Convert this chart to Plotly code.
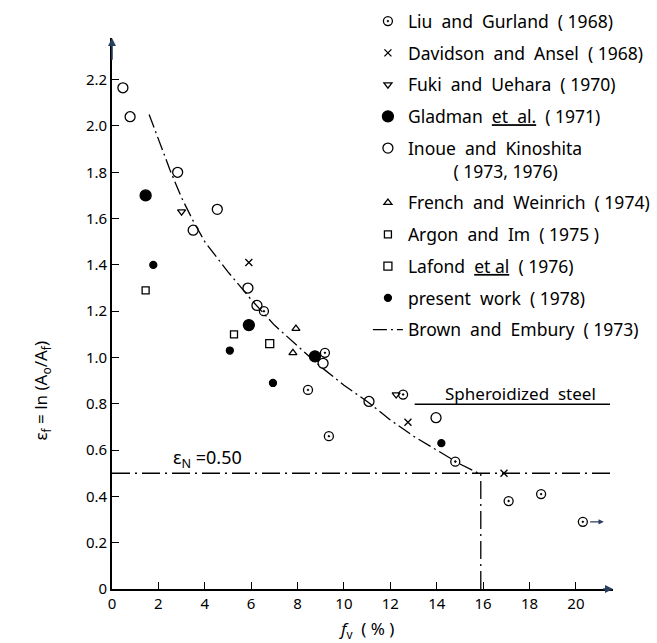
import plotly.graph_objects as go

# ---- data ----
liu_x = [8.45, 9.35, 12.55, 14.8, 17.1, 18.5, 20.3, 6.55, 9.18]
liu_y = [0.86, 0.66, 0.84, 0.55, 0.38, 0.41, 0.29, 1.20, 1.02]
dav_x = [5.9, 12.76, 16.9]
dav_y = [1.41, 0.72, 0.50]
fuki_x = [3.0, 12.25]
fuki_y = [1.63, 0.84]
glad_x = [1.45, 5.9, 8.75]
glad_y = [1.70, 1.14, 1.005]
inoue_x = [0.47, 0.78, 2.83, 3.5, 4.54, 5.86, 6.25, 9.1, 11.08, 13.97]
inoue_y = [2.165, 2.04, 1.80, 1.55, 1.64, 1.30, 1.225, 0.975, 0.81, 0.74]
french_x = [7.93, 7.8]
french_y = [1.125, 1.02]
argon_x = [1.45, 5.26]
argon_y = [1.29, 1.10]
lafond_x = [6.8]
lafond_y = [1.06]
present_x = [1.78, 5.08, 6.94, 14.2]
present_y = [1.40, 1.03, 0.89, 0.63]
brown_x = [1.6, 2.0, 2.5, 3.0, 3.5, 4.0, 5.0, 6.0, 7.0, 8.0, 9.0, 10.0, 11.0, 12.0, 13.0, 14.0, 15.0, 15.8]
brown_y = [2.05, 1.94, 1.81, 1.69, 1.59, 1.50, 1.37, 1.25, 1.14, 1.05, 0.96, 0.88, 0.81, 0.73, 0.66, 0.60, 0.54, 0.50]
eps_n = 0.50
f_crit = 15.9
x_ticks = [0, 2, 4, 6, 8, 10, 12, 14, 16, 18, 20]
y_ticks = [0, 0.2, 0.4, 0.6, 0.8, 1.0, 1.2, 1.4, 1.6, 1.8, 2.0, 2.2]
y_ticktext = ["0", "0.2", "0.4", "0.6", "0.8", "1.0", "1.2", "1.4", "1.6", "1.8", "2.0", "2.2"]

FONT = "Noto Sans"
DASHDOT = "14px,4px,2px,4px"

fig = go.Figure()

def add_pts(x, y, name, symbol, size, group):
    fig.add_trace(go.Scatter(
        x=x, y=y, mode="markers", name=name, legendgroup=group,
        marker=dict(symbol=symbol, size=size, color="black",
                    line=dict(color="black", width=1.3)),
        cliponaxis=False))

add_pts(liu_x, liu_y, "Liu  and  Gurland  ( 1968)", "circle-open-dot", 9, "a")
add_pts(dav_x, dav_y, "Davidson  and  Ansel  ( 1968)", "x-thin", 7, "b")
add_pts(fuki_x, fuki_y, "Fuki  and  Uehara  ( 1970)", "triangle-down-open", 7, "c")
add_pts(glad_x, glad_y, "Gladman  <u>et  al.</u>  ( 1971)", "circle", 11, "d")
add_pts(inoue_x, inoue_y, "Inoue  and  Kinoshita<br>          ( 1973, 1976)", "circle-open", 10, "e")
add_pts(french_x, french_y, "French  and  Weinrich  ( 1974)", "triangle-up-open", 7, "f")
add_pts(argon_x, argon_y, "Argon  and  Im  ( 1975 )", "square-open", 7, "g")
add_pts(lafond_x, lafond_y, "Lafond  <u>et al</u>  ( 1976)", "square-open", 8, "h")
add_pts(present_x, present_y, "present  work  ( 1978)", "circle", 7, "i")

fig.add_trace(go.Scatter(
    x=brown_x, y=brown_y, mode="lines", name="Brown  and  Embury  ( 1973)",
    legendgroup="j", line=dict(color="black", width=1.3, dash=DASHDOT)))

# eps_N horizontal line and vertical drop
fig.add_trace(go.Scatter(x=[0, 21.5], y=[eps_n, eps_n], mode="lines", showlegend=False,
                         line=dict(color="black", width=1.3, dash="18px,5px,2px,5px")))
fig.add_trace(go.Scatter(x=[f_crit, f_crit], y=[0, eps_n], mode="lines", showlegend=False,
                         line=dict(color="black", width=1.3, dash="18px,5px,2px,5px")))

fig.update_xaxes(range=[0, 21.6], showline=True, linecolor="black", linewidth=1.6,
                 showgrid=False, zeroline=False, ticks="inside", ticklen=7,
                 tickwidth=1.3, tickcolor="black", tickvals=x_ticks,
                 tickfont=dict(family=FONT, size=15, color="black"))
fig.update_yaxes(range=[0, 2.38], showline=True, linecolor="black", linewidth=1.6,
                 showgrid=False, zeroline=False, ticks="inside", ticklen=7,
                 tickwidth=1.3, tickcolor="black", tickvals=y_ticks, ticktext=y_ticktext,
                 tickfont=dict(family=FONT, size=15, color="black"))

ann = [
    dict(x=0, y=2.38, ax=0, ay=2.28, xref="x", yref="y", axref="x", ayref="y",
         showarrow=True, arrowhead=2, arrowsize=1, arrowwidth=1.6, text=""),
    dict(x=21.6, y=0, ax=21.1, ay=0, xref="x", yref="y", axref="x", ayref="y",
         showarrow=True, arrowhead=2, arrowsize=1, arrowwidth=1.6, text=""),
    dict(x=21.2, y=0.29, ax=20.55, ay=0.29, xref="x", yref="y", axref="x", ayref="y",
         showarrow=True, arrowhead=2, arrowsize=0.8, arrowwidth=1.3, text=""),
    dict(x=4.1, y=0.565, xref="x", yref="y", showarrow=False,
         text="ε<sub>N</sub> =0.50", font=dict(family=FONT, size=18, color="black")),
    dict(x=17.6, y=0.845, xref="x", yref="y", showarrow=False,
         text="Spheroidized  steel", font=dict(family=FONT, size=17, color="black")),
    dict(x=0.507, y=-0.074, xref="paper", yref="paper", xanchor="center", yanchor="middle",
         showarrow=False,
         text="<i>f</i><sub>v</sub>  ( % )", font=dict(family=FONT, size=17, color="black")),
    dict(x=-0.14, y=0.36, xref="paper", yref="paper", xanchor="center", yanchor="middle",
         showarrow=False, textangle=-90,
         text="ε<sub>f</sub> = ln (A<sub>o</sub>/A<sub>f</sub>)",
         font=dict(family=FONT, size=17, color="black")),
]

fig.update_layout(
    width=657, height=643,
    margin=dict(l=112, r=44, t=38, b=54, autoexpand=False),
    paper_bgcolor="white", plot_bgcolor="white",
    font=dict(family=FONT, size=15, color="black"),
    showlegend=True,
    legend=dict(x=0.56, y=0.995, xref="container", yref="container",
                xanchor="left", yanchor="top",
                bgcolor="rgba(0,0,0,0)", borderwidth=0, tracegroupgap=6,
                valign="top", maxheight=620,
                font=dict(family=FONT, size=17.5, color="black")),
    annotations=ann,
    shapes=[dict(type="line", xref="x", yref="y", x0=13.05, x1=21.47, y0=0.798, y1=0.798,
                 line=dict(color="black", width=1.3))],
)

fig.write_html("out.html")
